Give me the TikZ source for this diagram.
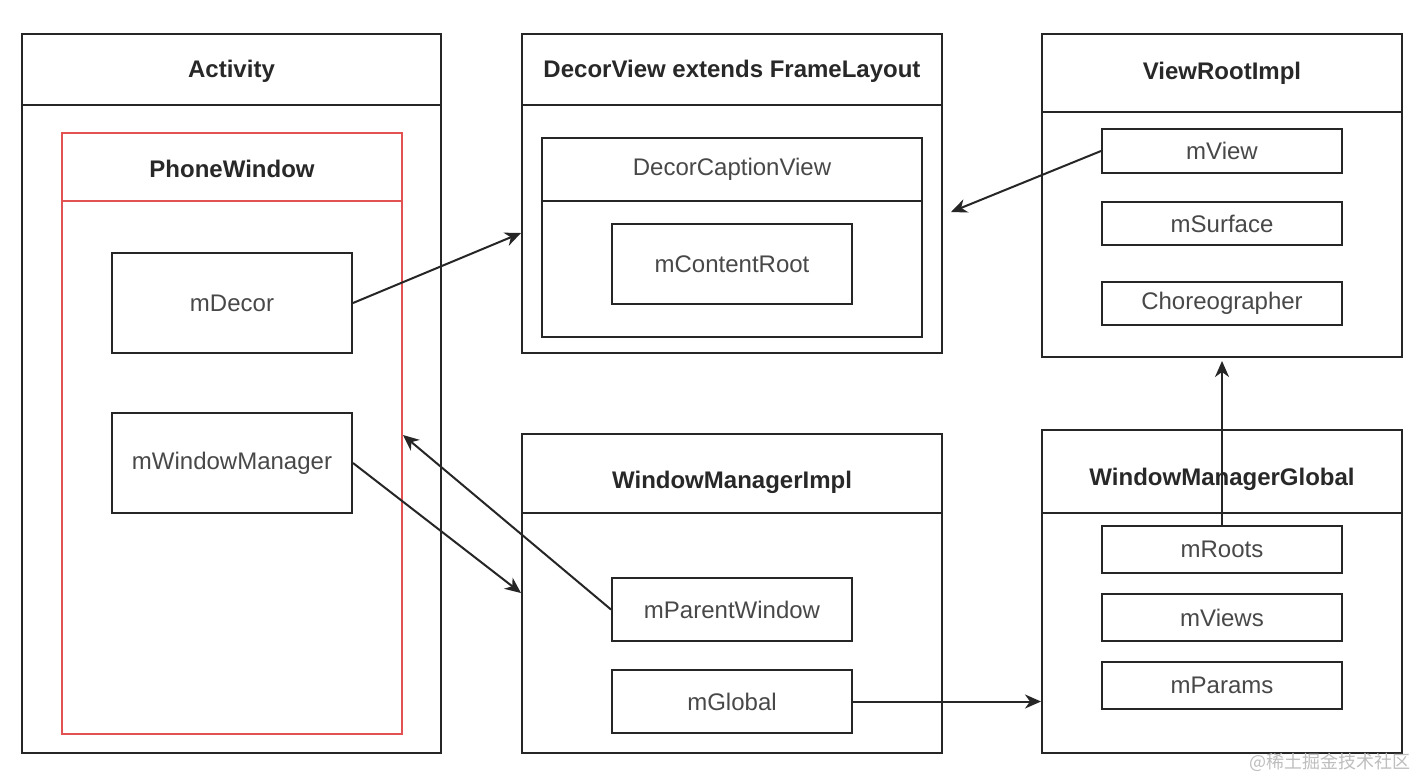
\documentclass[tikz,border=0pt]{standalone}
\usepackage{fontspec}
\setmainfont{Liberation Sans}
\newfontfamily\cjk{Noto Sans CJK SC}
\usetikzlibrary{arrows.meta,calc}
\definecolor{pwred}{RGB}{226,82,82}
\definecolor{txt}{RGB}{40,40,40}
\definecolor{wm}{RGB}{190,190,190}
\tikzset{
  box/.style={draw=black!85, line width=1pt, inner sep=0pt, fill=none},
  redbox/.style={draw=pwred, line width=1pt, inner sep=0pt},
  ttl/.style={font=\fontsize{12pt}{14pt}\selectfont\bfseries, text=txt, inner sep=0pt},
  lbl/.style={font=\fontsize{12pt}{14pt}\selectfont, text=txt!85},
  arr/.style={draw=black!85, line width=1pt, -{Stealth[length=8pt,width=7pt,inset=2.5pt]}},
}
\begin{document}
\begin{tikzpicture}[x=0.5pt,y=-0.5pt]
\useasboundingbox[fill=white] (0,0) rectangle (1416,776);
% Activity
\node[box, minimum width=209.5pt, minimum height=359.5pt] (act) at (231.5,393.5) {};
\draw[box] ([yshift=-36pt]act.north west) -- ([yshift=-36pt]act.north east);
\node[ttl] (actt) at (231.5,71) {Activity};
% PhoneWindow
\node[redbox, minimum width=170pt, minimum height=300.5pt] (pw) at (232,433.5) {};
\draw[redbox] ([yshift=-34.5pt]pw.north west) -- ([yshift=-34.5pt]pw.north east);
\node[ttl] (pwt) at (232,168.5) {PhoneWindow};
\node[box, lbl, minimum width=120pt, minimum height=50pt] (mdecor) at (232,303) {mDecor};
\node[box, lbl, minimum width=120pt, minimum height=50pt] (mwm) at (232,463) {mWindowManager};
% DecorView
\node[box, minimum width=210pt, minimum height=159.5pt] (dv) at (732,193.5) {};
\draw[box] ([yshift=-36pt]dv.north west) -- ([yshift=-36pt]dv.north east);
\node[ttl] (dvt) at (732,71) {DecorView extends FrameLayout};
\node[box, minimum width=190pt, minimum height=99.5pt] (dcv) at (732,237.5) {};
\draw[box] ([yshift=-32pt]dcv.north west) -- ([yshift=-32pt]dcv.north east);
\node[lbl] (dcvt) at (732,169) {DecorCaptionView};
\node[box, lbl, minimum width=120pt, minimum height=40pt] (mcr) at (732,264) {mContentRoot};
% ViewRootImpl
\node[box, minimum width=180pt, minimum height=161.5pt] (vri) at (1222,195.5) {};
\draw[box] ([yshift=-39.5pt]vri.north west) -- ([yshift=-39.5pt]vri.north east);
\node[ttl] (vrit) at (1222,73) {ViewRootImpl};
\node[box, lbl, minimum width=120pt, minimum height=22pt] (mview) at (1222,151) {mView};
\node[box, lbl, minimum width=120pt, minimum height=21.5pt] (msurf) at (1222,223.5) {mSurface};
\node[box, lbl, minimum width=120pt, minimum height=21.5pt] (choreo) at (1222,303.5) {Choreographer};
% WindowManagerImpl
\node[box, minimum width=210pt, minimum height=159.5pt] (wmi) at (732,593.5) {};
\draw[box] ([yshift=-40pt]wmi.north west) -- ([yshift=-40pt]wmi.north east);
\node[ttl] (wmit) at (732,482) {WindowManagerImpl};
\node[box, lbl, minimum width=120pt, minimum height=31.5pt] (mpw) at (732,609.5) {mParentWindow};
\node[box, lbl, minimum width=120pt, minimum height=31.5pt] (mglobal) at (732,701.5) {mGlobal};
% WindowManagerGlobal
\node[box, minimum width=180pt, minimum height=161.5pt] (wmg) at (1222,591.5) {};
\draw[box] ([yshift=-42pt]wmg.north west) -- ([yshift=-42pt]wmg.north east);
\node[ttl] (wmgt) at (1222,479) {WindowManagerGlobal};
\node[box, lbl, minimum width=120pt, minimum height=23.5pt] (mroots) at (1222,549.5) {mRoots};
\node[box, lbl, minimum width=120pt, minimum height=23.5pt] (mviews) at (1222,617.5) {mViews};
\node[box, lbl, minimum width=120pt, minimum height=23.5pt] (mparams) at (1222,685.5) {mParams};
% connectors
\coordinate (dvin) at (dv.west |- 0,233);
\coordinate (dvout) at ([xshift=4pt]dv.east |- 0,212);
\coordinate (pwin) at (pw.east |- 0,435);
\coordinate (wmiin) at (wmi.west |- 0,593);
\coordinate (wmgin) at (mglobal.east -| wmg.west);
\coordinate (vriin) at ([yshift=-1.5pt]vri.south);
\draw[arr] (mdecor.east) -- (dvin);
\draw[arr] (mview.west) -- (dvout);
\draw[arr] (mwm.east) -- (wmiin);
\draw[arr] (mpw.west) -- (pwin);
\draw[arr] (mglobal.east) -- (wmgin);
\draw[arr] (mroots.north) -- (vriin);
% watermark
\node[font=\cjk\fontsize{9pt}{10pt}\selectfont, text=wm, inner sep=0pt] (wmk) at (1330,762) {@稀土掘金技术社区};
\end{tikzpicture}
\end{document}
